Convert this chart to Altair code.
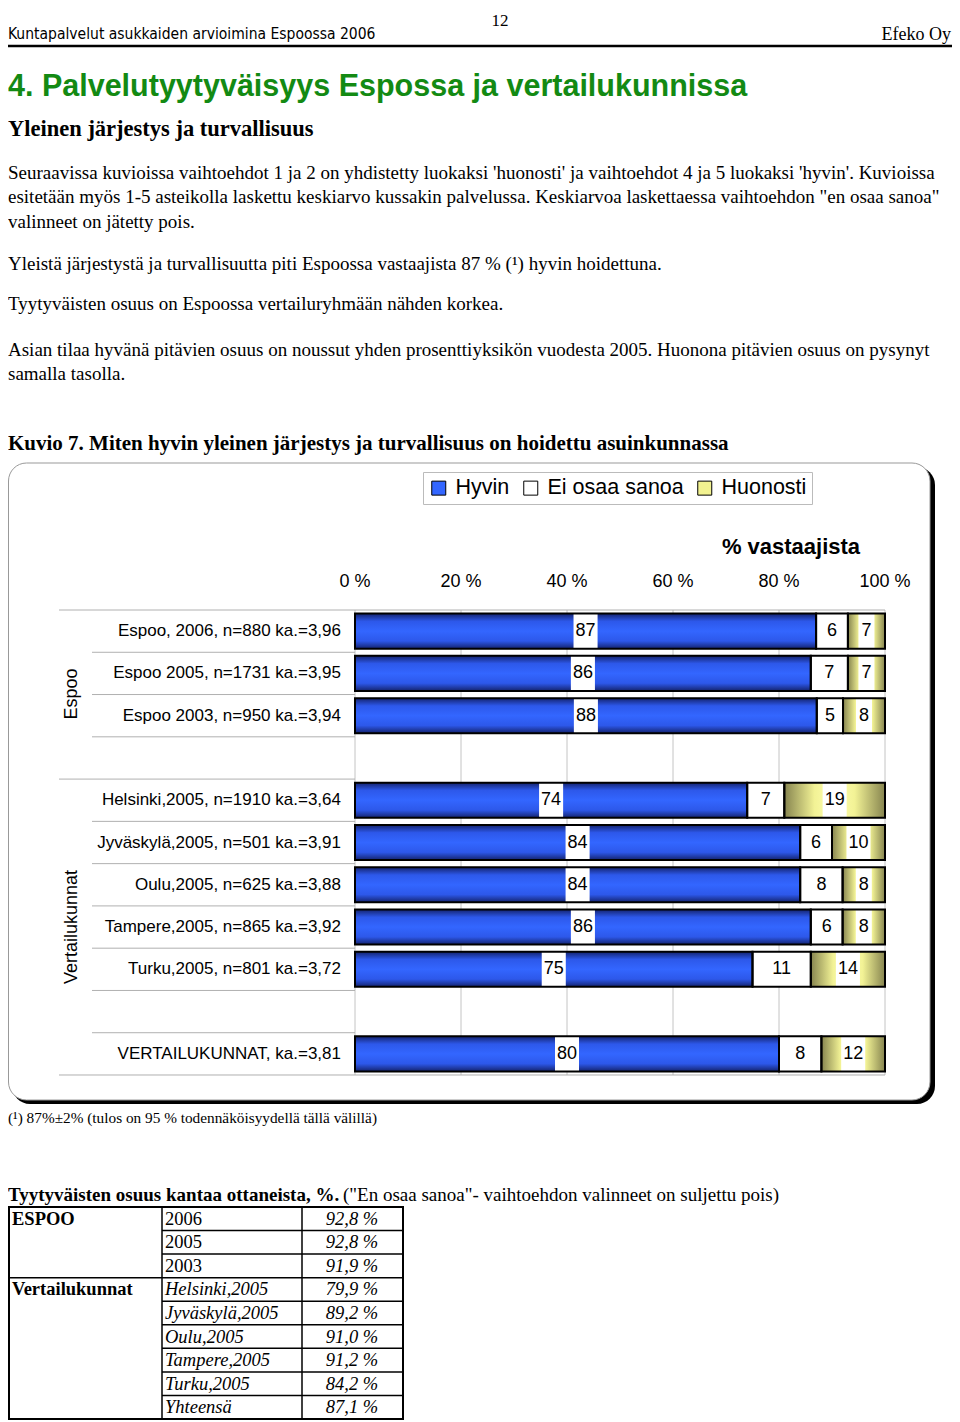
import altair as alt
import pandas as pd

# ---------------- data ----------------
rows = [
    "Espoo, 2006, n=880 ka.=3,96",
    "Espoo 2005, n=1731 ka.=3,95",
    "Espoo 2003, n=950 ka.=3,94",
    "Helsinki,2005, n=1910 ka.=3,64",
    "Jyväskylä,2005, n=501 ka.=3,91",
    "Oulu,2005, n=625 ka.=3,88",
    "Tampere,2005, n=865 ka.=3,92",
    "Turku,2005, n=801 ka.=3,72",
    "VERTAILUKUNNAT, ka.=3,81",
]
hyvin = [87, 86, 88, 74, 84, 84, 86, 75, 80]
ei_osaa = [6, 7, 5, 7, 6, 8, 6, 11, 8]
huonosti = [7, 7, 8, 19, 10, 8, 8, 14, 12]
series = ["Hyvin", "Ei osaa sanoa", "Huonosti"]
ticks = [0, 20, 40, 60, 80, 100]
groups = ["Espoo", "Vertailukunnat"]

table_groups = ["ESPOO", "Vertailukunnat"]
table_rows = ["2006", "2005", "2003", "Helsinki,2005", "Jyväskylä,2005",
              "Oulu,2005", "Tampere,2005", "Turku,2005", "Yhteensä"]
table_values = [92.8, 92.8, 91.9, 79.9, 89.2, 91.0, 91.2, 84.2, 87.1]

# ---------------- helpers ----------------
SERIF = "Liberation Serif"
SANS = "Liberation Sans"
NARROW = "DejaVu Sans Condensed, Liberation Sans"
OFF = 8  # page margin


def px(v):
    return v - OFF


slot_domain = rows[0:3] + ["gap1"] + rows[3:8] + ["gap2"] + rows[8:]
XS = alt.Scale(domain=[0, 100], range=[px(355), px(885)])
YS = alt.Scale(domain=slot_domain, range=[px(610), px(1075)],
               paddingInner=0.17, paddingOuter=0.085)
HALF_GAP = 42.27 * 0.085

recs = []
for r, vals in zip(rows, zip(hyvin, ei_osaa, huonosti)):
    total = sum(vals)
    cum = 0
    for s, v in zip(series, vals):
        start = cum / total * 100
        cum += v
        end = cum / total * 100
        mid = (start + end) / 2
        half = 0.76 * len(str(v)) + 0.75
        recs.append(dict(row=r, series=s, value=v, start=start, end=end,
                         mid=mid, lo=mid - half, hi=mid + half, label=str(v)))
bars = pd.DataFrame(recs)
rows_df = pd.DataFrame({"row": rows})
ticks_df = pd.DataFrame({"tick": ticks, "label": [f"{t} %" for t in ticks]})


def T(text, x, y, size, font=SERIF, weight="normal", align="left",
      color="black", style="normal", angle=0):
    return alt.Chart(pd.DataFrame({"t": [text]})).mark_text(
        align=align, baseline="middle", font=font, fontSize=size,
        fontWeight=weight, fontStyle=style, color=color, angle=angle
    ).encode(text="t:N", x=alt.value(px(x)), y=alt.value(px(y)))


def R(x1, x2, y1, y2, color="black", width=1.0):
    return alt.Chart(pd.DataFrame({"a": [0]})).mark_rule(
        color=color, strokeWidth=width
    ).encode(x=alt.value(px(x1)), x2=alt.value(px(x2)),
             y=alt.value(px(y1)), y2=alt.value(px(y2)))


layers = []

# ---------------- page text ----------------
layers.append(T("12", 500, 21, 17, align="center"))
layers.append(T("Kuntapalvelut asukkaiden arvioimina Espoossa 2006", 8, 34, 15.5, font=NARROW))
layers.append(T("Efeko Oy", 951, 35, 18, align="right"))
layers.append(R(8, 960, 46, 46, width=2.5))
layers.append(T("4. Palvelutyytyväisyys Espossa ja vertailukunnissa", 8, 87, 30.5,
                font=SANS, weight="bold", color="#138a13"))
layers.append(T("Yleinen järjestys ja turvallisuus", 8, 129, 22.5, weight="bold"))

para = [
    ("Seuraavissa kuvioissa vaihtoehdot 1 ja 2 on yhdistetty luokaksi 'huonosti' ja vaihtoehdot 4 ja 5 luokaksi 'hyvin'. Kuvioissa", 173),
    ("esitetään myös 1-5 asteikolla laskettu keskiarvo kussakin palvelussa. Keskiarvoa laskettaessa vaihtoehdon \"en osaa sanoa\"", 197),
    ("valinneet on jätetty pois.", 222),
    ("Yleistä järjestystä ja turvallisuutta piti Espoossa vastaajista 87 % (¹) hyvin hoidettuna.", 264),
    ("Tyytyväisten osuus on Espoossa vertailuryhmään nähden korkea.", 304),
    ("Asian tilaa hyvänä pitävien osuus on noussut yhden prosenttiyksikön vuodesta 2005.  Huonona pitävien osuus on pysynyt", 350),
    ("samalla tasolla.", 374),
]
for txt, yy in para:
    layers.append(T(txt, 8, yy, 19))

layers.append(T("Kuvio 7. Miten hyvin yleinen järjestys ja turvallisuus on hoidettu asuinkunnassa",
                8, 444, 21, weight="bold"))

# ---------------- chart frame ----------------
frame_df = pd.DataFrame({"a": [0]})
layers.append(alt.Chart(frame_df).mark_rect(color="black", cornerRadius=18).encode(
    x=alt.value(px(12)), x2=alt.value(px(935)), y=alt.value(px(467)), y2=alt.value(px(1104))))
layers.append(alt.Chart(frame_df).mark_rect(fill="white", stroke="#999999", strokeWidth=1,
                                            cornerRadius=18).encode(
    x=alt.value(0.5), x2=alt.value(px(930)), y=alt.value(px(463)), y2=alt.value(px(1100))))

# gridlines
layers.append(alt.Chart(ticks_df).mark_rule(color="#c4c4c4", strokeWidth=1).encode(
    x=alt.X("tick:Q", scale=XS, axis=None),
    y=alt.value(px(610)), y2=alt.value(px(1075))))
# tick labels
layers.append(alt.Chart(ticks_df).mark_text(font=SANS, fontSize=18, baseline="middle").encode(
    x=alt.X("tick:Q", scale=XS, axis=None), y=alt.value(px(582)), text="label:N"))
layers.append(T("% vastaajista", 791, 547, 22, font=SANS, weight="bold", align="center"))

# separator lines in category area
short_tops = pd.DataFrame({"row": [slot_domain[i] for i in [1, 2, 3, 5, 6, 7, 8, 9, 10]]})
layers.append(alt.Chart(short_tops).mark_rule(color="#b0b0b0", strokeWidth=1, yOffset=-HALF_GAP).encode(
    y=alt.Y("row:N", scale=YS, axis=None, bandPosition=0),
    x=alt.value(px(92)), x2=alt.value(px(355))))
long_tops = pd.DataFrame({"row": [slot_domain[0]]})
layers.append(alt.Chart(long_tops).mark_rule(color="#b0b0b0", strokeWidth=1, yOffset=-HALF_GAP).encode(
    y=alt.Y("row:N", scale=YS, axis=None, bandPosition=0),
    x=alt.value(px(59)), x2=alt.value(px(885))))
mid_tops = pd.DataFrame({"row": [slot_domain[4]]})
layers.append(alt.Chart(mid_tops).mark_rule(color="#b0b0b0", strokeWidth=1, yOffset=-HALF_GAP).encode(
    y=alt.Y("row:N", scale=YS, axis=None, bandPosition=0),
    x=alt.value(px(59)), x2=alt.value(px(355))))
long_bottom = pd.DataFrame({"row": [slot_domain[10]]})
layers.append(alt.Chart(long_bottom).mark_rule(color="#b0b0b0", strokeWidth=1, yOffset=HALF_GAP).encode(
    y=alt.Y("row:N", scale=YS, axis=None, bandPosition=1),
    x=alt.value(px(59)), x2=alt.value(px(885))))

# base bars (colour scale + legend)
layers.append(alt.Chart(bars).mark_bar().encode(
    y=alt.Y("row:N", scale=YS, axis=None),
    x=alt.X("start:Q", scale=XS, axis=None),
    x2="end:Q",
    color=alt.Color("series:N", title=None,
                    scale=alt.Scale(domain=series, range=["#3366ff", "#ffffff", "#f2f290"]),
                    legend=alt.Legend(orient="none", legendX=px(423), legendY=px(472),
                                      direction="horizontal", columns=3,
                                      symbolType="square", symbolSize=196,
                                      symbolStrokeColor="black", symbolStrokeWidth=1,
                                      labelFont=SANS, labelFontSize=21.5, labelColor="black",
                                      labelOffset=6, labelLimit=300, columnPadding=10,
                                      fillColor="white", strokeColor="#bbbbbb", padding=5)),
))

blue_grad = alt.LinearGradient(gradient="linear", x1=0, x2=0, y1=0, y2=1, stops=[
    alt.GradientStop(offset=0, color="#14236e"),
    alt.GradientStop(offset=0.22, color="#2d58ea"),
    alt.GradientStop(offset=0.5, color="#3366ff"),
    alt.GradientStop(offset=0.78, color="#2d58ea"),
    alt.GradientStop(offset=1, color="#14236e"),
])
yellow_grad = alt.LinearGradient(gradient="linear", x1=0, x2=1, y1=0, y2=0, stops=[
    alt.GradientStop(offset=0, color="#86844f"),
    alt.GradientStop(offset=0.3, color="#f2f295"),
    alt.GradientStop(offset=0.5, color="#ffffb0"),
    alt.GradientStop(offset=0.7, color="#f2f295"),
    alt.GradientStop(offset=1, color="#86844f"),
])
layers.append(alt.Chart(bars).transform_filter(alt.datum.series == "Hyvin").mark_bar(color=blue_grad).encode(
    y=alt.Y("row:N", scale=YS, axis=None),
    x=alt.X("start:Q", scale=XS, axis=None), x2="end:Q"))
layers.append(alt.Chart(bars).transform_filter(alt.datum.series == "Huonosti").mark_bar(color=yellow_grad).encode(
    y=alt.Y("row:N", scale=YS, axis=None),
    x=alt.X("start:Q", scale=XS, axis=None), x2="end:Q"))
# label boxes
layers.append(alt.Chart(bars).mark_bar(color="white").encode(
    y=alt.Y("row:N", scale=YS, axis=None),
    x=alt.X("lo:Q", scale=XS, axis=None), x2="hi:Q"))
# outlines
layers.append(alt.Chart(bars).mark_bar(fillOpacity=0, stroke="black", strokeWidth=2).encode(
    y=alt.Y("row:N", scale=YS, axis=None),
    x=alt.X("start:Q", scale=XS, axis=None), x2="end:Q"))
# values
layers.append(alt.Chart(bars).mark_text(font=SANS, fontSize=18, baseline="middle", color="black").encode(
    y=alt.Y("row:N", scale=YS, axis=None),
    x=alt.X("mid:Q", scale=XS, axis=None), text="label:N"))
# row labels
layers.append(alt.Chart(rows_df).mark_text(font=SANS, fontSize=17, align="right", baseline="middle").encode(
    y=alt.Y("row:N", scale=YS, axis=None), x=alt.value(px(341)), text="row:N"))
# group labels
layers.append(T(groups[0], 72, 694, 18, font=SANS, align="center", angle=270))
layers.append(T(groups[1], 72, 927, 18, font=SANS, align="center", angle=270))

layers.append(T("(¹) 87%±2% (tulos on 95 % todennäköisyydellä tällä välillä)", 8, 1118, 15.3))

# ---------------- table ----------------
layers.append(T("Tyytyväisten osuus kantaa ottaneista, %.", 8, 1195, 19, weight="bold"))
layers.append(T("(\"En osaa sanoa\"- vaihtoehdon valinneet on suljettu pois)", 343, 1195, 19))

TY = alt.Scale(domain=table_rows, range=[px(1207), px(1419)], paddingInner=0, paddingOuter=0)
tdf = pd.DataFrame({
    "row": table_rows,
    "val": [f"{v:.1f} %".replace(".", ",") for v in table_values],
    "idx": list(range(len(table_rows))),
})
gdf = pd.DataFrame({"row": [table_rows[0], table_rows[3]], "g": table_groups})

layers.append(alt.Chart(frame_df).mark_rect(fill="white", stroke="black", strokeWidth=2).encode(
    x=alt.value(1), x2=alt.value(px(403)), y=alt.value(px(1207)), y2=alt.value(px(1419))))
layers.append(R(162, 162, 1207, 1419, width=1.5))
layers.append(R(302, 302, 1207, 1419, width=1.5))
layers.append(alt.Chart(tdf).transform_filter(alt.datum.idx > 0).mark_rule(color="black", strokeWidth=1.5).encode(
    y=alt.Y("row:N", scale=TY, axis=None, bandPosition=0),
    x=alt.value(px(162)), x2=alt.value(px(403))))
layers.append(alt.Chart(gdf).transform_filter(alt.datum.g == table_groups[1]).mark_rule(color="black", strokeWidth=1.5).encode(
    y=alt.Y("row:N", scale=TY, axis=None, bandPosition=0),
    x=alt.value(1), x2=alt.value(px(162))))
layers.append(alt.Chart(gdf).mark_text(font=SERIF, fontSize=18.5, fontWeight="bold", align="left", baseline="middle").encode(
    y=alt.Y("row:N", scale=TY, axis=None), x=alt.value(4), text="g:N"))
layers.append(alt.Chart(tdf).transform_filter(alt.datum.idx < 3).mark_text(font=SERIF, fontSize=18.5, align="left", baseline="middle").encode(
    y=alt.Y("row:N", scale=TY, axis=None), x=alt.value(px(165)), text="row:N"))
layers.append(alt.Chart(tdf).transform_filter(alt.datum.idx >= 3).mark_text(font=SERIF, fontSize=18.5, fontStyle="italic", align="left", baseline="middle").encode(
    y=alt.Y("row:N", scale=TY, axis=None), x=alt.value(px(165)), text="row:N"))
layers.append(alt.Chart(tdf).mark_text(font=SERIF, fontSize=18.5, fontStyle="italic", align="center", baseline="middle").encode(
    y=alt.Y("row:N", scale=TY, axis=None), x=alt.value(px(352)), text="val:N"))

chart = alt.layer(*layers).resolve_scale(
    x="independent", y="independent"
).properties(
    width=944, height=1414, padding=0, autosize=alt.AutoSizeParams(type="none")
).configure_view(stroke=None)

chart.save("out.html", embed_options={"renderer": "svg", "actions": False})
